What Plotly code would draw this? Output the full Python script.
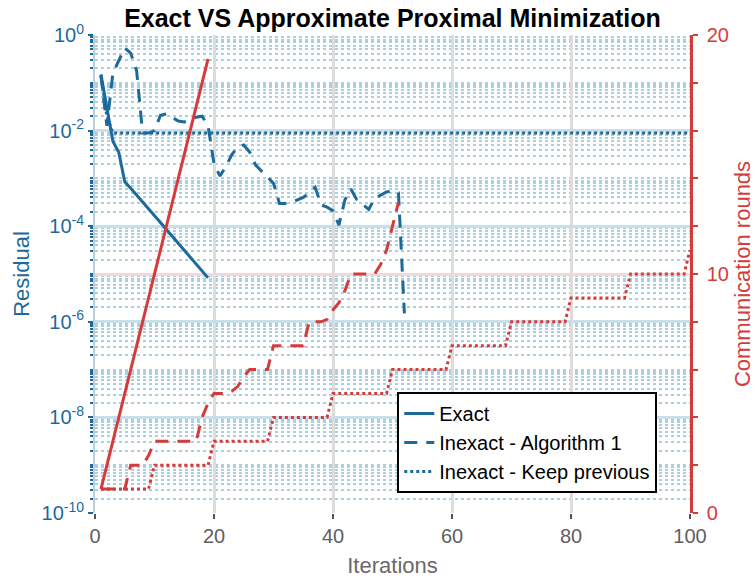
import plotly.graph_objects as go

# ---------------- data ----------------
it_exact = list(range(1, 20))
res_exact = [0.15, 0.03, 6.0e-3, 3.5e-3, 8.5e-4, 6.2e-4, 4.5e-4, 3.2e-4, 2.3e-4, 1.65e-4,
             1.2e-4, 8.5e-5, 6.1e-5, 4.4e-5, 3.1e-5, 2.25e-5, 1.6e-5, 1.15e-5, 8.3e-6]
rounds_exact = [1, 2, 3, 4, 5, 6, 7, 8, 9, 10, 11, 12, 13, 14, 15, 16, 17, 18, 19]

it_alg1 = list(range(1, 53))
res_alg1 = [0.141, 0.0126, 0.158, 0.282, 0.537, 0.417, 0.178, 0.0089, 0.0089, 0.010,
            0.0209, 0.0224, 0.0191, 0.0158, 0.0151, 0.0166, 0.0191, 0.020, 0.0126, 0.0020,
            0.00112, 0.00178, 0.00316, 0.00447, 0.0050, 0.00355, 0.0019, 0.00141, 0.00107, 7.9e-4,
            3.0e-4, 3.0e-4, 3.16e-4, 3.55e-4, 4.0e-4, 5.0e-4, 6.5e-4, 2.8e-4, 2.5e-4, 2.1e-4,
            1.05e-4, 3.55e-4, 6.0e-4, 3.6e-4, 2.8e-4, 2.25e-4, 3.8e-4, 4.5e-4, 5.2e-4, 5.5e-4,
            5.0e-4, 1.5e-6]
it_alg1_rounds = list(range(1, 52))
rounds_alg1 = [1, 1, 1, 1, 1, 2, 2, 2, 2.4, 3,
               3, 3, 3, 3, 3, 3, 3, 4, 4.6, 5,
               5, 5, 5.1, 5.3, 5.7, 6, 6, 6, 6, 7,
               7, 7, 7, 7, 7, 8, 8, 8, 8.1, 8.5,
               8.8, 9.3, 10, 10, 10, 10, 10, 10.4, 11, 12,
               13]

it_keep = list(range(1, 101))
res_keep = [0.14, 0.02] + [0.0089] * 98
rounds_keep = ([1] * 9 + [2] * 10 + [3] * 10 + [4] * 10 + [5] * 10 + [6] * 10 +
               [7] * 10 + [8] * 10 + [9] * 10 + [10] * 10 + [11])

y_ticks = [1e-10, 1e-8, 1e-6, 1e-4, 1e-2, 1]
y_ticktext = ["10<sup>-10</sup>", "10<sup>-8</sup>", "10<sup>-6</sup>",
              "10<sup>-4</sup>", "10<sup>-2</sup>", "10<sup>0</sup>"]
x_ticks = [0, 20, 40, 60, 80, 100]
y2_ticks = [0, 10, 20]

# ---------------- style ----------------
BLUE = "#1c6a9b"
RED = "#d43c3c"
FONT = "Liberation Sans, Arial, Helvetica, sans-serif"
DASH = "13px,9px"

minor_vals = []
for e in range(-10, 0):
    for k in range(1, 10):
        v = k * 10.0 ** e
        if not (k == 1 and e % 2 == 0):
            minor_vals.append(v)

fig = go.Figure()
fig.add_trace(go.Scatter(x=it_exact, y=res_exact, mode="lines", name="Exact",
                         line=dict(color=BLUE, width=3)))
fig.add_trace(go.Scatter(x=it_alg1, y=res_alg1, mode="lines", name="Inexact - Algorithm 1",
                         line=dict(color=BLUE, width=3, dash=DASH)))
fig.add_trace(go.Scatter(x=it_keep, y=res_keep, mode="lines", name="Inexact - Keep previous",
                         line=dict(color=BLUE, width=3, dash="dot")))
fig.add_trace(go.Scatter(x=it_exact, y=rounds_exact, mode="lines", yaxis="y2", showlegend=False,
                         line=dict(color=RED, width=3)))
fig.add_trace(go.Scatter(x=it_alg1_rounds, y=rounds_alg1, mode="lines", yaxis="y2", showlegend=False,
                         line=dict(color=RED, width=3, dash=DASH)))
fig.add_trace(go.Scatter(x=it_keep, y=rounds_keep, mode="lines", yaxis="y2", showlegend=False,
                         line=dict(color=RED, width=3, dash="dot")))

fig.update_layout(
    width=755, height=579,
    margin=dict(l=95, r=65, t=35, b=66, autoexpand=False),
    paper_bgcolor="white", plot_bgcolor="white",
    font=dict(family=FONT),
    title=dict(text="<b>Exact VS Approximate Proximal Minimization</b>",
               x=0.5, xref="paper", xanchor="center",
               y=1 - 18 / 579, yref="container", yanchor="middle",
               font=dict(size=25, color="black", family=FONT)),
    xaxis=dict(range=[0, 100], tickvals=x_ticks, showgrid=True, gridcolor="#dcdcdc", gridwidth=2.5,
               automargin=False,
               zeroline=False, showline=False, ticks="outside", ticklen=5, tickwidth=2,
               tickcolor="#555555", tickfont=dict(size=20, color="#5f5f5f"),
               title=dict(text="Iterations", font=dict(size=22, color="#6a6a6a"), standoff=11)),
    yaxis=dict(type="log", range=[-10, 0], tickvals=y_ticks, ticktext=y_ticktext,
               automargin=False,
               showgrid=True, gridcolor="#c9dfea", gridwidth=2.5, zeroline=False,
               showline=True, linecolor="#b9cfdc", linewidth=2,
               ticks="outside", ticklen=5, tickwidth=2, tickcolor=BLUE,
               tickfont=dict(size=20, color=BLUE),
               minor=dict(tickmode="array", tickvals=minor_vals, showgrid=True,
                          gridcolor="#a9cfe1", griddash="dot", gridwidth=1.5,
                          ticks="outside", ticklen=3, tickwidth=2, tickcolor=BLUE),
               title=dict(text="Residual", font=dict(size=22, color=BLUE), standoff=6)),
    yaxis2=dict(range=[0, 20], overlaying="y", side="right", tickvals=y2_ticks,
                automargin=False,
                showgrid=True, gridcolor="#f6d7d7", gridwidth=2.5, zeroline=False,
                showline=True, linecolor=RED, linewidth=2.5,
                ticks="outside", ticklen=5, tickwidth=2, tickcolor=RED,
                ticklabelstandoff=5,
                tickfont=dict(size=20, color=RED),
                minor=dict(dtick=2, ticks="outside", ticklen=5, tickwidth=2, tickcolor=RED, showgrid=False),
                title=dict(text="Communication rounds", font=dict(size=22, color=RED), standoff=14)),
    legend=dict(x=0.508, y=0.042, xanchor="left", yanchor="bottom",
                bgcolor="white", bordercolor="black", borderwidth=2,
                font=dict(size=20, color="black", family=FONT), tracegroupgap=0),
    showlegend=True,
)

fig.write_html("out.html")
